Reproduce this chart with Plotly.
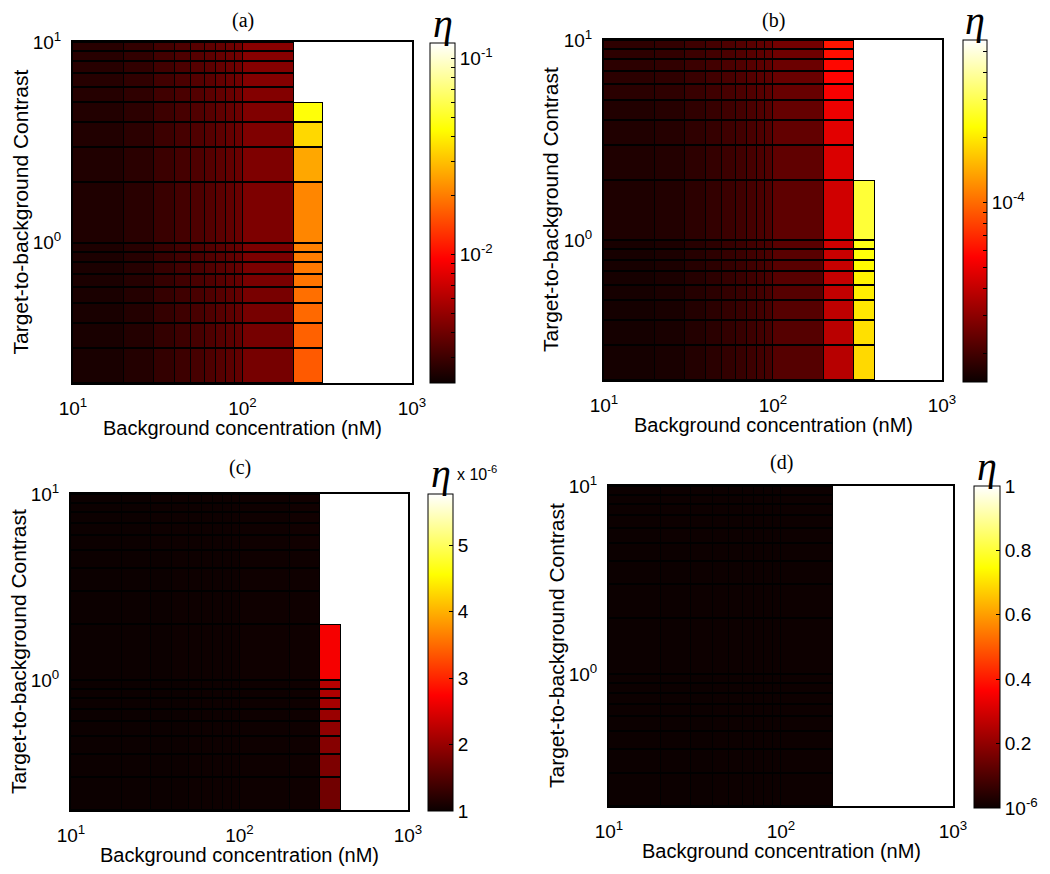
import numpy as np
import plotly.graph_objects as go

# target picture size and the browser's default page margin (the figure is drawn 8 px in)
W, H = 1050, 874
PAGE_MARGIN = 8
FW, FH = W - PAGE_MARGIN, H - PAGE_MARGIN

# ---------------- grid (cell edges) ----------------
x_edges = [10, 20, 30, 40, 50, 60, 70, 80, 90, 100, 200, 300, 400, 500, 600, 700, 800, 900, 1000]
y_edges = [0.2, 0.3, 0.4, 0.5, 0.6, 0.7, 0.8, 0.9, 1, 2, 3, 4, 5, 6, 7, 8, 9, 10]

x_tick_vals = [10, 100, 1000]
x_tick_text = ["10<sup>1</sup>", "10<sup>2</sup>", "10<sup>3</sup>"]
y_tick_vals = [1, 10]
y_tick_text = ["10<sup>0</sup>", "10<sup>1</sup>"]

# ---------------- panel (a): eta, rows bottom->top, cols 10-20 ... 200-300 ----------------
eta_a = [
    [0.00240, 0.00255, 0.00281, 0.00299, 0.00315, 0.00330, 0.00344, 0.00357, 0.00372, 0.00420, 0.0163],
    [0.00240, 0.00255, 0.00281, 0.00299, 0.00315, 0.00330, 0.00344, 0.00357, 0.00372, 0.00420, 0.0170],
    [0.00241, 0.00256, 0.00282, 0.00300, 0.00317, 0.00332, 0.00346, 0.00359, 0.00374, 0.00423, 0.0178],
    [0.00242, 0.00257, 0.00284, 0.00302, 0.00318, 0.00333, 0.00347, 0.00361, 0.00376, 0.00425, 0.0184],
    [0.00243, 0.00258, 0.00285, 0.00303, 0.00320, 0.00335, 0.00349, 0.00363, 0.00378, 0.00427, 0.0191],
    [0.00244, 0.00259, 0.00286, 0.00305, 0.00321, 0.00337, 0.00351, 0.00364, 0.00380, 0.00429, 0.0196],
    [0.00245, 0.00260, 0.00288, 0.00306, 0.00323, 0.00338, 0.00353, 0.00366, 0.00382, 0.00431, 0.0200],
    [0.00246, 0.00261, 0.00289, 0.00308, 0.00325, 0.00340, 0.00355, 0.00368, 0.00384, 0.00434, 0.0206],
    [0.00250, 0.00265, 0.00292, 0.00311, 0.00328, 0.00343, 0.00358, 0.00371, 0.00387, 0.00437, 0.0212],
    [0.00251, 0.00266, 0.00294, 0.00313, 0.00330, 0.00345, 0.00360, 0.00373, 0.00389, 0.00440, 0.0258],
    [0.00252, 0.00268, 0.00296, 0.00315, 0.00332, 0.00347, 0.00362, 0.00376, 0.00392, 0.00443, 0.0345],
    [0.00254, 0.00270, 0.00298, 0.00317, 0.00334, 0.00349, 0.00365, 0.00379, 0.00395, 0.00446, 0.0450],
    [0.00259, 0.00275, 0.00303, 0.00323, 0.00340, 0.00356, 0.00372, 0.00386, 0.00402, 0.00454, None],
    [0.00260, 0.00276, 0.00305, 0.00325, 0.00342, 0.00358, 0.00374, 0.00388, 0.00404, 0.00457, None],
    [0.00261, 0.00277, 0.00306, 0.00326, 0.00344, 0.00360, 0.00376, 0.00390, 0.00406, 0.00460, None],
    [0.00262, 0.00278, 0.00308, 0.00328, 0.00346, 0.00362, 0.00378, 0.00392, 0.00408, 0.00463, None],
    [0.00263, 0.00279, 0.00309, 0.00330, 0.00348, 0.00364, 0.00380, 0.00394, 0.00410, 0.00466, None],
]
cb_a_range = [10 ** -2.655, 10 ** -0.92]

# ---------------- panel (b): cols 10-20 ... 300-400 ----------------
eta_b = [
    [1.56e-5, 1.60e-5, 1.69e-5, 1.75e-5, 1.83e-5, 1.88e-5, 1.94e-5, 1.99e-5, 2.04e-5, 2.21e-5, 3.77e-5, 1.82e-4],
    [1.56e-5, 1.60e-5, 1.69e-5, 1.75e-5, 1.83e-5, 1.88e-5, 1.94e-5, 1.99e-5, 2.04e-5, 2.21e-5, 3.84e-5, 1.89e-4],
    [1.56e-5, 1.60e-5, 1.69e-5, 1.76e-5, 1.84e-5, 1.89e-5, 1.95e-5, 2.00e-5, 2.05e-5, 2.22e-5, 3.91e-5, 1.96e-4],
    [1.57e-5, 1.61e-5, 1.70e-5, 1.76e-5, 1.84e-5, 1.89e-5, 1.95e-5, 2.00e-5, 2.06e-5, 2.23e-5, 3.98e-5, 2.03e-4],
    [1.57e-5, 1.61e-5, 1.70e-5, 1.77e-5, 1.85e-5, 1.90e-5, 1.96e-5, 2.01e-5, 2.07e-5, 2.24e-5, 4.05e-5, 2.10e-4],
    [1.58e-5, 1.62e-5, 1.71e-5, 1.77e-5, 1.85e-5, 1.91e-5, 1.97e-5, 2.02e-5, 2.08e-5, 2.25e-5, 4.12e-5, 2.18e-4],
    [1.58e-5, 1.62e-5, 1.71e-5, 1.78e-5, 1.86e-5, 1.91e-5, 1.98e-5, 2.03e-5, 2.09e-5, 2.26e-5, 4.18e-5, 2.31e-4],
    [1.59e-5, 1.63e-5, 1.72e-5, 1.78e-5, 1.87e-5, 1.92e-5, 1.99e-5, 2.04e-5, 2.10e-5, 2.27e-5, 4.24e-5, 2.40e-4],
    [1.64e-5, 1.68e-5, 1.77e-5, 1.84e-5, 1.92e-5, 1.97e-5, 2.04e-5, 2.09e-5, 2.14e-5, 2.32e-5, 4.31e-5, 2.72e-4],
    [1.65e-5, 1.69e-5, 1.78e-5, 1.85e-5, 1.93e-5, 1.98e-5, 2.05e-5, 2.11e-5, 2.16e-5, 2.35e-5, 4.57e-5, None],
    [1.66e-5, 1.70e-5, 1.80e-5, 1.86e-5, 1.95e-5, 2.00e-5, 2.07e-5, 2.13e-5, 2.19e-5, 2.38e-5, 4.79e-5, None],
    [1.67e-5, 1.71e-5, 1.81e-5, 1.88e-5, 1.96e-5, 2.02e-5, 2.09e-5, 2.15e-5, 2.21e-5, 2.41e-5, 5.07e-5, None],
    [1.75e-5, 1.79e-5, 1.89e-5, 1.96e-5, 2.05e-5, 2.11e-5, 2.17e-5, 2.23e-5, 2.28e-5, 2.44e-5, 5.36e-5, None],
    [1.76e-5, 1.80e-5, 1.90e-5, 1.98e-5, 2.07e-5, 2.13e-5, 2.20e-5, 2.26e-5, 2.31e-5, 2.47e-5, 5.64e-5, None],
    [1.77e-5, 1.82e-5, 1.92e-5, 2.00e-5, 2.09e-5, 2.15e-5, 2.22e-5, 2.28e-5, 2.34e-5, 2.50e-5, 5.81e-5, None],
    [1.78e-5, 1.83e-5, 1.93e-5, 2.01e-5, 2.10e-5, 2.17e-5, 2.24e-5, 2.30e-5, 2.37e-5, 2.55e-5, 6.02e-5, None],
    [1.79e-5, 1.84e-5, 1.95e-5, 2.03e-5, 2.12e-5, 2.19e-5, 2.26e-5, 2.33e-5, 2.40e-5, 2.60e-5, 6.24e-5, None],
]
cb_b_range = [10 ** -4.83, 10 ** -3.25]

# ---------------- panel (c): values in units of 1e-6, cols 10-20 ... 300-400 ----------------
eta_c = [
    [1.01, 1.01, 1.01, 1.01, 1.02, 1.02, 1.02, 1.02, 1.02, 1.02, 1.03, 1.73],
    [1.01, 1.01, 1.01, 1.01, 1.02, 1.02, 1.02, 1.02, 1.02, 1.02, 1.03, 1.81],
    [1.01, 1.01, 1.01, 1.01, 1.02, 1.02, 1.02, 1.02, 1.02, 1.02, 1.03, 1.88],
    [1.01, 1.01, 1.01, 1.01, 1.02, 1.02, 1.02, 1.02, 1.02, 1.02, 1.03, 1.95],
    [1.01, 1.01, 1.01, 1.01, 1.02, 1.02, 1.02, 1.02, 1.02, 1.02, 1.03, 2.02],
    [1.01, 1.01, 1.01, 1.01, 1.02, 1.02, 1.02, 1.02, 1.02, 1.02, 1.03, 2.09],
    [1.01, 1.01, 1.01, 1.01, 1.02, 1.02, 1.02, 1.02, 1.02, 1.02, 1.03, 2.16],
    [1.01, 1.01, 1.01, 1.01, 1.02, 1.02, 1.02, 1.02, 1.02, 1.02, 1.03, 2.23],
    [1.01, 1.01, 1.01, 1.02, 1.02, 1.02, 1.02, 1.02, 1.02, 1.03, 1.03, 2.68],
    [1.01, 1.01, 1.01, 1.02, 1.02, 1.02, 1.02, 1.02, 1.02, 1.03, 1.03, None],
    [1.01, 1.01, 1.01, 1.02, 1.02, 1.02, 1.02, 1.02, 1.02, 1.03, 1.03, None],
    [1.01, 1.01, 1.01, 1.02, 1.02, 1.02, 1.02, 1.02, 1.02, 1.03, 1.03, None],
    [1.01, 1.01, 1.02, 1.02, 1.02, 1.02, 1.02, 1.02, 1.03, 1.03, 1.04, None],
    [1.01, 1.01, 1.02, 1.02, 1.02, 1.02, 1.02, 1.02, 1.03, 1.03, 1.04, None],
    [1.01, 1.01, 1.02, 1.02, 1.02, 1.02, 1.02, 1.02, 1.03, 1.03, 1.04, None],
    [1.01, 1.01, 1.02, 1.02, 1.02, 1.02, 1.02, 1.02, 1.03, 1.03, 1.04, None],
    [1.01, 1.01, 1.02, 1.02, 1.02, 1.02, 1.02, 1.02, 1.03, 1.03, 1.04, None],
]
cb_c_range = [1.0, 5.77]
cb_c_ticks = [1, 2, 3, 4, 5]

# ---------------- panel (d): cols 10-20 ... 100-200 ----------------
eta_d = [
    [2.0e-3, 2.1e-3, 2.2e-3, 2.3e-3, 2.4e-3, 2.5e-3, 2.6e-3, 2.7e-3, 2.8e-3, 3.0e-3],
    [2.0e-3, 2.1e-3, 2.2e-3, 2.3e-3, 2.4e-3, 2.5e-3, 2.6e-3, 2.7e-3, 2.8e-3, 3.0e-3],
    [2.0e-3, 2.1e-3, 2.2e-3, 2.3e-3, 2.4e-3, 2.5e-3, 2.6e-3, 2.7e-3, 2.8e-3, 3.0e-3],
    [2.0e-3, 2.1e-3, 2.2e-3, 2.3e-3, 2.4e-3, 2.5e-3, 2.6e-3, 2.7e-3, 2.8e-3, 3.0e-3],
    [2.0e-3, 2.1e-3, 2.2e-3, 2.3e-3, 2.4e-3, 2.5e-3, 2.6e-3, 2.7e-3, 2.8e-3, 3.0e-3],
    [2.0e-3, 2.1e-3, 2.2e-3, 2.3e-3, 2.4e-3, 2.5e-3, 2.6e-3, 2.7e-3, 2.8e-3, 3.0e-3],
    [2.0e-3, 2.1e-3, 2.2e-3, 2.3e-3, 2.4e-3, 2.5e-3, 2.6e-3, 2.7e-3, 2.8e-3, 3.0e-3],
    [2.0e-3, 2.1e-3, 2.2e-3, 2.3e-3, 2.4e-3, 2.5e-3, 2.6e-3, 2.7e-3, 2.8e-3, 3.0e-3],
    [2.1e-3, 2.2e-3, 2.3e-3, 2.4e-3, 2.5e-3, 2.6e-3, 2.7e-3, 2.8e-3, 2.9e-3, 3.1e-3],
    [2.1e-3, 2.2e-3, 2.3e-3, 2.4e-3, 2.5e-3, 2.6e-3, 2.7e-3, 2.8e-3, 2.9e-3, 3.1e-3],
    [2.1e-3, 2.2e-3, 2.3e-3, 2.4e-3, 2.5e-3, 2.6e-3, 2.7e-3, 2.8e-3, 2.9e-3, 3.1e-3],
    [2.1e-3, 2.2e-3, 2.3e-3, 2.4e-3, 2.5e-3, 2.6e-3, 2.7e-3, 2.8e-3, 2.9e-3, 3.1e-3],
    [2.2e-3, 2.3e-3, 2.4e-3, 2.5e-3, 2.6e-3, 2.7e-3, 2.8e-3, 2.9e-3, 3.0e-3, 3.2e-3],
    [2.2e-3, 2.3e-3, 2.4e-3, 2.5e-3, 2.6e-3, 2.7e-3, 2.8e-3, 2.9e-3, 3.0e-3, 3.2e-3],
    [2.2e-3, 2.3e-3, 2.4e-3, 2.5e-3, 2.6e-3, 2.7e-3, 2.8e-3, 2.9e-3, 3.0e-3, 3.2e-3],
    [2.2e-3, 2.3e-3, 2.4e-3, 2.5e-3, 2.6e-3, 2.7e-3, 2.8e-3, 2.9e-3, 3.0e-3, 3.2e-3],
    [2.2e-3, 2.3e-3, 2.4e-3, 2.5e-3, 2.6e-3, 2.7e-3, 2.8e-3, 2.9e-3, 3.0e-3, 3.2e-3],
]
cb_d_range = [1e-6, 1.0]
cb_d_ticks = [1e-6, 0.2, 0.4, 0.6, 0.8, 1.0]
cb_d_text = ["10<sup>-6</sup>", "0.2", "0.4", "0.6", "0.8", "1"]

# ---------------- helpers ----------------
NCOL = len(x_edges) - 1
HOT = [[0.0, "rgb(11,0,0)"], [0.365, "rgb(255,0,0)"], [0.746, "rgb(255,255,0)"], [1.0, "rgb(255,255,255)"]]
SANS = "Liberation Sans, Arial, sans-serif"
SERIF = "Liberation Serif, Times New Roman, serif"


def padded(rows):
    arr = np.full((len(rows), NCOL), np.nan)
    for i, r in enumerate(rows):
        for j, v in enumerate(r):
            if v is not None:
                arr[i, j] = v
    return arr


def to_list(arr):
    return [[None if np.isnan(v) else float(v) for v in row] for row in arr]


def mask_of(arr):
    return [[1 if np.isnan(v) else 0 for v in row] for row in arr]


def log_minor_ticks(lo, hi):
    vals, text = [], []
    for e in range(int(np.floor(np.log10(lo))), int(np.ceil(np.log10(hi))) + 1):
        for k in range(1, 10):
            v = k * 10.0 ** e
            if lo <= v <= hi:
                vals.append(np.log10(v))
                text.append(f"10<sup>{e}</sup>" if k == 1 else "")
    return vals, text


def px_x(v):
    return (v - PAGE_MARGIN) / FW


def px_y(v):
    return 1 - (v - PAGE_MARGIN) / FH


# panel geometry in screen pixels: plot box (left, right, top, bottom), colorbar (left, width, top, bottom)
panels = {
    "a": dict(box=(73, 412, 42, 383), cb=(430, 25, 43, 383)),
    "b": dict(box=(604, 942, 40, 380), cb=(963, 24, 40, 382)),
    "c": dict(box=(71, 408, 494, 810), cb=(428, 25, 494, 811)),
    "d": dict(box=(609, 953, 486, 806), cb=(974, 26, 486, 808)),
}
# vertical centre of each panel letter, in screen pixels
title_y = {"a": 20, "b": 20, "c": 467, "d": 462}

fig = go.Figure()
layout_axes = {}
annotations = []

specs = [
    ("a", eta_a, "log", cb_a_range, None, None),
    ("b", eta_b, "log", cb_b_range, None, None),
    ("c", eta_c, "lin", cb_c_range, cb_c_ticks, [str(t) for t in cb_c_ticks]),
    ("d", eta_d, "lin", cb_d_range, cb_d_ticks, cb_d_text),
]

for idx, (name, rows, scale, crange, tvals, ttext) in enumerate(specs):
    n = idx + 1
    xa = "x" if n == 1 else f"x{n}"
    ya = "y" if n == 1 else f"y{n}"
    arr = padded(rows)
    geo = panels[name]
    l, r, t, b = geo["box"]
    cl, cw, ct, cbm = geo["cb"]

    if scale == "log":
        z = np.log10(arr)
        zmin, zmax = np.log10(crange[0]), np.log10(crange[1])
        tvals, ttext = log_minor_ticks(crange[0], crange[1])
    else:
        z = arr
        zmin, zmax = crange

    # white mask for empty cells, black under the cell borders
    fig.add_trace(go.Heatmap(
        x=x_edges, y=y_edges, z=mask_of(arr), xaxis=xa, yaxis=ya,
        colorscale=[[0, "black"], [1, "white"]], zmin=0, zmax=1,
        showscale=False, hoverinfo="skip",
    ))
    fig.add_trace(go.Heatmap(
        x=x_edges, y=y_edges, z=to_list(z), xaxis=xa, yaxis=ya,
        colorscale=HOT, zmin=zmin, zmax=zmax, xgap=1, ygap=2,
        colorbar=dict(
            x=px_x(cl), xanchor="left", xpad=0, ypad=0,
            y=px_y((ct + cbm) / 2), yanchor="middle",
            len=(cbm - ct) / FH, lenmode="fraction",
            thickness=cw, thicknessmode="pixels",
            outlinewidth=1, outlinecolor="black",
            ticks="inside", ticklen=4, tickcolor="black", tickwidth=1,
            tickvals=tvals, ticktext=ttext,
            tickfont=dict(family=SANS, size=19, color="black"),
        ),
    ))

    layout_axes[("xaxis" if n == 1 else f"xaxis{n}")] = dict(
        type="log", range=[1, 3], domain=[px_x(l), px_x(r)], anchor=ya,
        tickvals=x_tick_vals, ticktext=x_tick_text, automargin=False,
        ticks="outside", ticklen=7, tickcolor="rgba(0,0,0,0)",
        showgrid=False, zeroline=False, showline=True, mirror=True,
        linecolor="black", linewidth=2,
        tickfont=dict(family=SANS, size=19, color="black"),
    )
    layout_axes[("yaxis" if n == 1 else f"yaxis{n}")] = dict(
        type="log", range=[np.log10(0.2), 1], domain=[px_y(b), px_y(t)], anchor=xa,
        tickvals=y_tick_vals, ticktext=y_tick_text, automargin=False,
        ticks="outside", ticklen=6, tickcolor="rgba(0,0,0,0)",
        showgrid=False, zeroline=False, showline=True, mirror=True,
        linecolor="black", linewidth=2,
        tickfont=dict(family=SANS, size=19, color="black"),
    )

    cx = (l + r) / 2
    cy = (t + b) / 2
    # panel title
    annotations.append(dict(text=f"({name})", x=px_x(cx), y=px_y(title_y[name]), xref="paper", yref="paper",
                            showarrow=False, font=dict(family=SERIF, size=20, color="black"),
                            xanchor="center", yanchor="middle"))
    # x-axis title
    annotations.append(dict(text="Background concentration (nM)", x=px_x(cx), y=px_y(b + 45),
                            xref="paper", yref="paper", showarrow=False,
                            font=dict(family=SANS, size=20, color="black"),
                            xanchor="center", yanchor="middle"))
    # y-axis title
    annotations.append(dict(text="Target-to-background Contrast", x=px_x(l - 53), y=px_y(cy),
                            xref="paper", yref="paper", showarrow=False, textangle=-90,
                            font=dict(family=SANS, size=21, color="black"),
                            xanchor="center", yanchor="middle"))
    # eta symbol
    annotations.append(dict(text="<i>η</i>", x=px_x(cl + cw / 2), y=px_y(ct - 20),
                            xref="paper", yref="paper", showarrow=False,
                            font=dict(family=SERIF, size=40, color="black"),
                            xanchor="center", yanchor="middle"))

annotations.append(dict(text="x 10<sup>-6</sup>", x=px_x(455), y=px_y(473), xref="paper", yref="paper",
                        showarrow=False, font=dict(family=SANS, size=16, color="black"),
                        xanchor="left", yanchor="middle"))

fig.update_layout(
    width=FW, height=FH,
    margin=dict(l=0, r=0, t=0, b=0, autoexpand=False),
    paper_bgcolor="white", plot_bgcolor="white",
    showlegend=False,
    annotations=annotations,
    **layout_axes,
)

fig.write_html("out.html")
